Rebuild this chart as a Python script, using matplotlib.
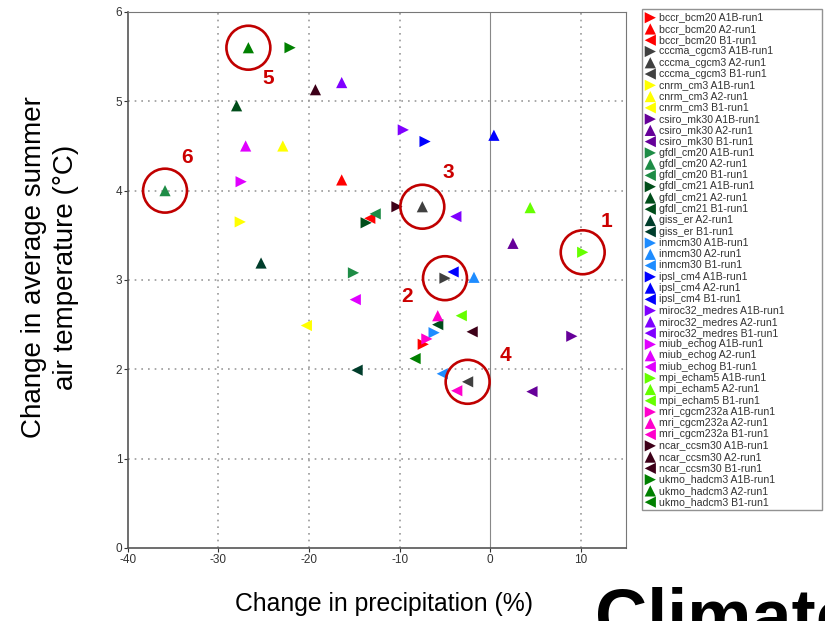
import matplotlib
matplotlib.use("Agg")
import matplotlib.pyplot as plt

plt.rcParams['font.family'] = ['Liberation Sans', 'DejaVu Sans']
plt.rcParams['axes.unicode_minus'] = False

# model runs: name, scenario, precipitation change (%), temperature change (C)
models = ["bccr_bcm20", "cccma_cgcm3", "cnrm_cm3", "csiro_mk30", "gfdl_cm20",
          "gfdl_cm21", "giss_er", "inmcm30", "ipsl_cm4", "miroc32_medres",
          "miub_echog", "mpi_echam5", "mri_cgcm232a", "ncar_ccsm30", "ukmo_hadcm3"]
model_colors = ["#ff0000", "#404040", "#ffff00", "#660099", "#1e8c46",
                "#004d1a", "#003d2b", "#1e8cff", "#0000ff", "#7f00ff",
                "#e000ff", "#66ff00", "#ff00cc", "#3d0018", "#008000"]
scenarios = {
    "bccr_bcm20": ["A1B", "A2", "B1"],
    "cccma_cgcm3": ["A1B", "A2", "B1"],
    "cnrm_cm3": ["A1B", "A2", "B1"],
    "csiro_mk30": ["A1B", "A2", "B1"],
    "gfdl_cm20": ["A1B", "A2", "B1"],
    "gfdl_cm21": ["A1B", "A2", "B1"],
    "giss_er": ["A2", "B1"],
    "inmcm30": ["A1B", "A2", "B1"],
    "ipsl_cm4": ["A1B", "A2", "B1"],
    "miroc32_medres": ["A1B", "A2", "B1"],
    "miub_echog": ["A1B", "A2", "B1"],
    "mpi_echam5": ["A1B", "A2", "B1"],
    "mri_cgcm232a": ["A1B", "A2", "B1"],
    "ncar_ccsm30": ["A1B", "A2", "B1"],
    "ukmo_hadcm3": ["A1B", "A2", "B1"],
}
precip = {
    "bccr_bcm20": [-7.4, -16.4, -13.3],
    "cccma_cgcm3": [-5.0, -7.5, -2.5],
    "cnrm_cm3": [-27.6, -22.9, -20.3],
    "csiro_mk30": [9.0, 2.5, 4.6],
    "gfdl_cm20": [-15.1, -35.9, -12.7],
    "gfdl_cm21": [-13.7, -28.0, -5.8],
    "giss_er": [-25.3, -14.7],
    "inmcm30": [-6.2, -1.8, -5.3],
    "ipsl_cm4": [-7.2, 0.4, -4.1],
    "miroc32_medres": [-9.6, -16.4, -3.8],
    "miub_echog": [-27.5, -27.0, -14.9],
    "mpi_echam5": [10.2, 4.4, -3.2],
    "mri_cgcm232a": [-7.0, -5.8, -3.7],
    "ncar_ccsm30": [-10.3, -19.3, -2.0],
    "ukmo_hadcm3": [-22.1, -26.7, -8.3],
}
temp = {
    "bccr_bcm20": [2.28, 4.12, 3.69],
    "cccma_cgcm3": [3.02, 3.82, 1.86],
    "cnrm_cm3": [3.65, 4.50, 2.49],
    "csiro_mk30": [2.37, 3.41, 1.75],
    "gfdl_cm20": [3.08, 4.00, 3.74],
    "gfdl_cm21": [3.64, 4.95, 2.50],
    "giss_er": [3.19, 1.99],
    "inmcm30": [2.41, 3.03, 1.95],
    "ipsl_cm4": [4.55, 4.62, 3.09],
    "miroc32_medres": [4.68, 5.21, 3.71],
    "miub_echog": [4.10, 4.50, 2.78],
    "mpi_echam5": [3.31, 3.81, 2.60],
    "mri_cgcm232a": [2.34, 2.60, 1.76],
    "ncar_ccsm30": [3.82, 5.13, 2.42],
    "ukmo_hadcm3": [5.60, 5.60, 2.12],
}
scenario_markers = {"A1B": ">", "A2": "^", "B1": "<"}

# circled runs and their numbers
highlights = [("mpi_echam5", "A1B", "1"), ("cccma_cgcm3", "A1B", "2"),
              ("cccma_cgcm3", "A2", "3"), ("cccma_cgcm3", "B1", "4"),
              ("ukmo_hadcm3", "A2", "5"), ("gfdl_cm20", "A2", "6")]
label_offsets = {"1": (17, 22), "2": (-27, -13), "3": (19, 25),
                 "4": (27, 19), "5": (14, -22), "6": (16, 24)}

fig = plt.figure(figsize=(8.25, 6.21), dpi=100)
ax = fig.add_axes([0.155, 0.1176, 0.604, 0.8631])

for model, color in zip(models, model_colors):
    for sc, x, y in zip(scenarios[model], precip[model], temp[model]):
        ax.scatter(x, y, marker=scenario_markers[sc], s=65, color=color,
                   edgecolors="none", zorder=3, label=f"{model} {sc}-run1")

for model, sc, num in highlights:
    i = scenarios[model].index(sc)
    x, y = precip[model][i], temp[model][i]
    ax.scatter(x, y, marker="o", s=1000, facecolors="none",
               edgecolors="#c00000", linewidths=1.9, zorder=4)
    ax.annotate(num, (x, y), xytext=label_offsets[num], textcoords="offset points",
                ha="center", va="center", fontsize=15, fontweight="bold",
                color="#cc0000", zorder=5)

ax.set_xlim(-40, 15)
ax.set_ylim(0, 6)
ax.set_xticks([-40, -30, -20, -10, 0, 10])
ax.set_yticks([0, 1, 2, 3, 4, 5, 6])
ax.tick_params(labelsize=8.5, colors="#333333", length=3, width=0.8, pad=1)
for x in [-30, -20, -10, 10]:
    ax.axvline(x, color="#999999", linestyle=(0, (1, 3)), linewidth=1.2, zorder=1)
for y in [1, 2, 3, 4, 5]:
    ax.axhline(y, color="#999999", linestyle=(0, (1, 3)), linewidth=1.2, zorder=1)
ax.axvline(0, color="#888888", linewidth=0.8, zorder=1)

for side in ["left", "bottom"]:
    ax.spines[side].set_color("#555555")
    ax.spines[side].set_linewidth(1.2)
for side in ["top", "right"]:
    ax.spines[side].set_color("#777777")
    ax.spines[side].set_linewidth(0.8)

ax.set_xlabel("Change in precipitation (%)", fontsize=17.8, va="center")
ax.xaxis.set_label_coords(0.514, -0.104)
ax.set_ylabel("Change in average summer\nair temperature (\u00b0C)", fontsize=20,
              linespacing=1.3, va="center")
ax.yaxis.set_label_coords(-0.157, 0.524)

fig.legend(loc="upper left", bbox_to_anchor=(0.778, 0.18, 0.218, 0.805),
           mode="expand", fontsize=7.6, labelcolor="#333333",
           frameon=True, fancybox=False, edgecolor="#777777", borderpad=0.3,
           labelspacing=0.12, handletextpad=0.3, handlelength=1.0,
           borderaxespad=0, markerscale=1.0, scatterpoints=1)

fig.text(0.721, -0.03, "Climate", fontsize=52, fontweight="bold", color="black",
         ha="left", va="baseline")

fig.savefig("out.png", dpi=100)
